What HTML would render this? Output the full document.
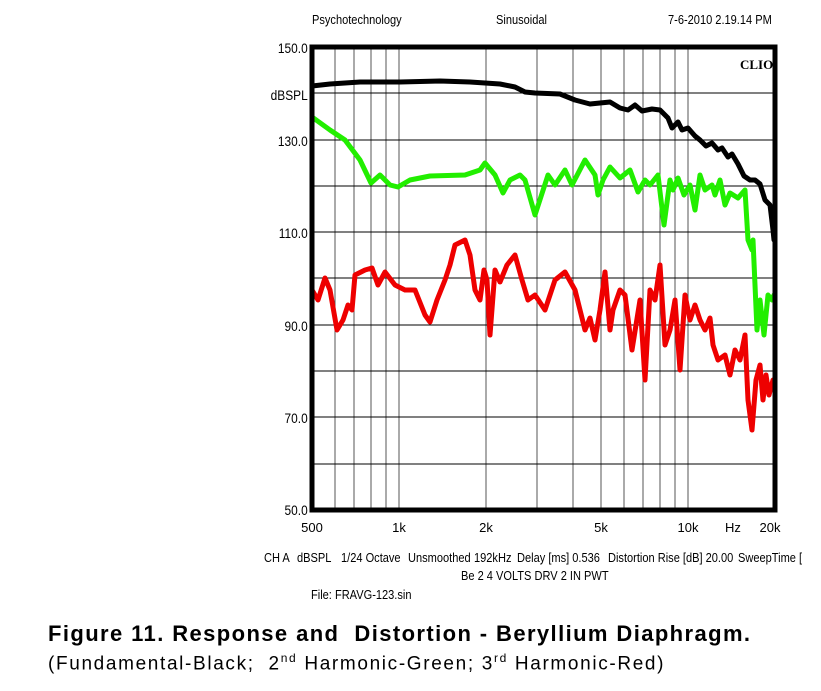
<!DOCTYPE html>
<html><head><style>
body{margin:0;background:#fff;width:821px;height:691px;overflow:hidden;position:relative;font-family:"Liberation Sans",Arial,sans-serif}
.t{position:absolute;font-size:13px;white-space:nowrap;transform-origin:0 0;transform:scaleX(.85)}
.cap{position:absolute;left:48px;white-space:nowrap}
</style></head><body>
<div class="t" style="left:312px;top:12px">Psychotechnology</div>
<div class="t" style="left:496px;top:12px">Sinusoidal</div>
<div class="t" style="left:668px;top:12px">7-6-2010 2.19.14 PM</div>
<svg width="821" height="691" style="position:absolute;left:0;top:0" font-family="Liberation Sans,Arial,sans-serif">
<g stroke="#555" stroke-width="1">
<line x1="335" y1="47" x2="335" y2="510"/><line x1="354" y1="47" x2="354" y2="510"/><line x1="371" y1="47" x2="371" y2="510"/><line x1="386" y1="47" x2="386" y2="510"/><line x1="399" y1="47" x2="399" y2="510"/>
<line x1="486" y1="47" x2="486" y2="510"/><line x1="537" y1="47" x2="537" y2="510"/><line x1="573" y1="47" x2="573" y2="510"/><line x1="601" y1="47" x2="601" y2="510"/><line x1="624" y1="47" x2="624" y2="510"/><line x1="643" y1="47" x2="643" y2="510"/><line x1="660" y1="47" x2="660" y2="510"/><line x1="675" y1="47" x2="675" y2="510"/><line x1="688" y1="47" x2="688" y2="510"/>
</g>
<g stroke="#000" stroke-width="1">
<line x1="312" y1="93" x2="775" y2="93"/><line x1="312" y1="140" x2="775" y2="140"/><line x1="312" y1="186" x2="775" y2="186"/><line x1="312" y1="232" x2="775" y2="232"/><line x1="312" y1="278" x2="775" y2="278"/><line x1="312" y1="325" x2="775" y2="325"/><line x1="312" y1="371" x2="775" y2="371"/><line x1="312" y1="417" x2="775" y2="417"/><line x1="312" y1="464" x2="775" y2="464"/>
</g>
<g fill="none" stroke-width="5" stroke-linejoin="round" stroke-linecap="round">
<polyline stroke="#ee0000" points="312,290 318,300 325,278 330,290 337,330 343,320 348,305 352,310 355,275 365,270 372,268 378,285 385,272 395,285 405,290 415,290 425,315 430,322 437,300 445,280 450,265 455,245 465,240 470,255 475,290 480,300 484,270 487,280 490,335 495,270 500,282 507,265 515,255 522,280 528,300 535,295 545,310 555,280 565,272 575,290 585,330 590,318 595,340 600,310 605,272 610,330 613,310 620,290 625,295 632,350 640,300 645,380 650,290 655,300 660,265 665,345 670,330 675,300 680,370 685,295 690,320 695,305 700,320 705,330 710,318 713,345 718,360 725,355 730,375 735,350 740,360 745,335 748,400 752,430 756,380 760,365 763,400 766,375 769,395 773,380"/>
<polyline stroke="#22ee00" points="312,117 330,130 345,140 360,160 371,183 380,175 390,185 398,187 410,180 430,176 465,175 480,170 485,163 495,175 503,193 510,180 520,175 525,180 535,215 548,175 555,185 565,170 572,185 585,160 595,175 598,195 603,180 610,167 620,178 630,170 638,192 645,180 650,185 658,175 664,225 670,180 673,190 678,178 684,195 690,185 695,210 700,175 705,190 712,185 715,195 720,180 725,205 730,193 738,198 745,190 748,240 752,250 753,240 757,330 760,300 764,335 768,295 772,300 774,295"/>
<polyline stroke="#000" points="312,86 330,84 360,82 400,82 440,81 470,82 500,84 515,87 525,92 535,93 560,94 575,100 590,104 600,103 610,102 620,108 628,110 635,105 642,111 652,109 660,110 668,118 672,128 678,122 682,130 688,128 695,136 700,140 706,146 712,143 718,150 722,148 728,157 732,154 738,164 744,176 750,180 755,180 760,184 765,200 770,205 773,230 774,240"/>
</g>
<rect x="312" y="47" width="463" height="463" fill="none" stroke="#000" stroke-width="5"/>
<text x="740" y="69" font-family="Liberation Serif,serif" font-weight="bold" font-size="13">CLIO</text>
<g font-size="14" text-anchor="end" transform="scale(0.85,1)">
<text x="362" y="53">150.0</text><text x="362" y="100">dBSPL</text><text x="362" y="146">130.0</text><text x="362" y="238">110.0</text><text x="362" y="331">90.0</text><text x="362" y="423">70.0</text><text x="362" y="515">50.0</text>
</g>
<g font-size="13" text-anchor="middle">
<text x="312" y="532">500</text><text x="399" y="532">1k</text><text x="486" y="532">2k</text><text x="601" y="532">5k</text><text x="688" y="532">10k</text><text x="733" y="532">Hz</text><text x="770" y="532">20k</text>
</g>
</svg>
<div class="t" style="left:264px;top:550px">CH A</div>
<div class="t" style="left:297px;top:550px">dBSPL</div>
<div class="t" style="left:341px;top:550px">1/24 Octave</div>
<div class="t" style="left:408px;top:550px">Unsmoothed</div>
<div class="t" style="left:474px;top:550px">192kHz</div>
<div class="t" style="left:517px;top:550px">Delay [ms] 0.536</div>
<div class="t" style="left:608px;top:550px">Distortion Rise [dB] 20.00</div>
<div class="t" style="left:738px;top:550px">SweepTime [</div>
<div class="t" style="left:461px;top:568px">Be 2 4 VOLTS DRV 2 IN PWT</div>
<div class="t" style="left:311px;top:587px">File: FRAVG-123.sin</div>
<div class="cap" style="top:621px;font-size:22px;font-weight:bold;letter-spacing:1.4px">Figure 11. Response and&nbsp; Distortion - Beryllium Diaphragm.</div>
<div class="cap" style="top:651px;font-size:19px;letter-spacing:1.65px">(Fundamental-Black;&nbsp; 2<sup style="font-size:12px">nd</sup> Harmonic-Green; 3<sup style="font-size:12px">rd</sup> Harmonic-Red)</div>
</body></html>
